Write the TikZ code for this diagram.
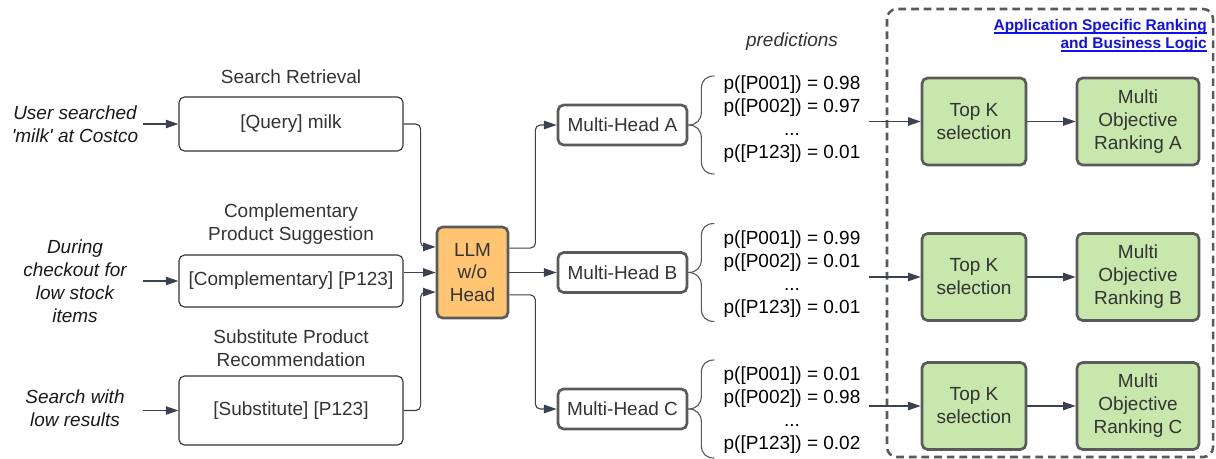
\documentclass[tikz,border=0pt]{standalone}
\usepackage{fontspec}
\setmainfont{Liberation Sans}
\usetikzlibrary{arrows.meta, positioning}

\definecolor{lineclr}{HTML}{3A4150}
\definecolor{boxclr}{HTML}{5A5A5A}
\definecolor{inclr}{HTML}{333333}
\definecolor{txtclr}{HTML}{333333}
\definecolor{llmclr}{HTML}{FFC573}
\definecolor{rankclr}{HTML}{C7E7AD}
\definecolor{linkclr}{HTML}{1010F0}

% thicker underline for the link-like title
\newcommand\appul[1]{\setbox0\hbox{#1}\rlap{\rule[-2.3pt]{\wd0}{1.1pt}}\box0}

\begin{document}
\begin{tikzpicture}[x=0.025cm, y=-0.025cm,
      every node/.style={font=\fontsize{13.5}{16.3}\selectfont, text=txtclr},
      inbox/.style={draw=inclr, line width=0.8pt, rounded corners=4pt, minimum width=5.6cm},
      headbox/.style={draw=boxclr, line width=1.9pt, rounded corners=4pt, minimum width=3.225cm, minimum height=1cm, fill=white},
      llmbox/.style={headbox, fill=llmclr, minimum width=1.775cm, minimum height=2.275cm, align=center},
      rankbox/.style={headbox, fill=rankclr, minimum height=2.175cm, align=center},
      tasklbl/.style={align=center},
      cue/.style={align=center, font=\fontsize{13.5}{16.3}\selectfont\itshape, text=black!90},
      pred/.style={align=center, text=black},
      conn/.style={-{Triangle[length=9pt, width=6pt]}, draw=lineclr, line width=0.8pt, rounded corners=3.5pt},
      brace/.style={draw=boxclr, line width=0.8pt},
      appbox/.style={draw=boxclr, line width=1.8pt, dash pattern=on 5.5pt off 3.5pt, rounded corners=7pt}
    ]
      \useasboundingbox (0,0) rectangle (1216,459);

      % Inputs
      \node[cue] (cueq) at (75,124.5) {User searched\\\textquotesingle milk\textquotesingle{} at Costco};
      \node[cue] (cuec) at (75,281.5) {During\\checkout for\\low stock\\items};
      \node[cue] (cues) at (75,408.5) {Search with\\low results};

      \node[tasklbl] (lblq) at (291,77) {Search Retrieval};
      \node[tasklbl] (lblc) at (291,224.5) {Complementary\\Product Suggestion};
      \node[tasklbl] (lbls) at (291,348.5) {Substitute Product\\Recommendation};

      \node[inbox, minimum height=1.35cm] (qbox) at (291,124) {[Query] milk};
      \node[inbox, minimum height=1.3cm] (cbox) at (291,281) {[Complementary] [P123]};
      \node[inbox, minimum height=1.725cm] (sbox) at (291,410.5) {[Substitute] [P123]};

      \draw[conn] ([xshift=-0.875cm]qbox.west) -- (qbox.west);
      \draw[conn] ([xshift=-0.875cm]cbox.west) -- (cbox.west);
      \draw[conn] ([xshift=-0.875cm]sbox.west) -- (sbox.west);

      % Backbone
      \node[llmbox] (llm) at (472.5,272.5) {LLM\\w/o\\Head};

      \draw[conn] (qbox.east) -- ++(17,0) |- ([yshift=0.64cm]llm.west);
      \draw[conn] (cbox.east |- llm.west) -- (llm.west);
      \draw[conn] (sbox.east) -- ++(17,0) |- ([yshift=-0.49cm]llm.west);

      % Heads
      \node[headbox] (mhA) at (622.5,125) {Multi-Head A};
      \node[headbox] (mhB) at (622.5,272.5) {Multi-Head B};
      \node[headbox] (mhC) at (622.5,409) {Multi-Head C};

      \draw[conn] ([yshift=0.61cm]llm.east) -- ++(26,0) |- (mhA.west);
      \draw[conn] (llm.east) -- (mhB.west);
      \draw[conn] ([yshift=-0.56cm]llm.east) -- ++(26,0) |- (mhC.west);

      % Predictions
      \node[cue, text=txtclr] (predlbl) at (792,42) {predictions};

      \foreach \h in {mhA, mhB, mhC} {
        \draw[brace] (\h.east) .. controls +(8,0) and +(0,8) .. ++(13,-13) -- ++(0,-23)
          .. controls +(0,-9) and +(-8,0) .. ++(13,-13);
        \draw[brace] (\h.east) .. controls +(8,0) and +(0,-8) .. ++(13,13) -- ++(0,23)
          .. controls +(0,9) and +(-8,0) .. ++(13,13);
      }

      \node[pred] (predA) at (792,119) {p([P001]) = 0.98\\p([P002]) = 0.97\\...\\p([P123]) = 0.01};
      \node[pred] (predB) at (792,274) {p([P001]) = 0.99\\p([P002]) = 0.01\\...\\p([P123]) = 0.01};
      \node[pred] (predC) at (792,410) {p([P001]) = 0.01\\p([P002]) = 0.98\\...\\p([P123]) = 0.02};

      % Application specific part
      \draw[appbox] (887,9) rectangle (1213,457);
      \node[anchor=north east, align=right, inner sep=0pt, text=linkclr,
            font=\fontsize{11}{12.8}\selectfont\bfseries] (apptitle) at (1207,19)
        {\appul{Application Specific Ranking}\\\appul{and Business Logic}};

      \node[rankbox, minimum width=2.6cm] (topA) at (974,121.5) {Top K\\selection};
      \node[rankbox, minimum width=2.6cm] (topB) at (974,277) {Top K\\selection};
      \node[rankbox, minimum width=2.6cm] (topC) at (974,406) {Top K\\selection};

      \node[rankbox, minimum width=3.05cm] (rankA) at (1138,121.5) {Multi\\Objective\\Ranking A};
      \node[rankbox, minimum width=3.05cm] (rankB) at (1138,277) {Multi\\Objective\\Ranking B};
      \node[rankbox, minimum width=3.05cm] (rankC) at (1138,406) {Multi\\Objective\\Ranking C};

      \draw[conn] ([xshift=-1.3cm]topA.west) -- (topA.west);
      \draw[conn] ([xshift=-1.3cm]topB.west) -- (topB.west);
      \draw[conn] ([xshift=-1.3cm]topC.west) -- (topC.west);

      \draw[conn] (topA) -- (rankA);
      \draw[conn] (topB) -- (rankB);
      \draw[conn] (topC) -- (rankC);
    \end{tikzpicture}
\end{document}
